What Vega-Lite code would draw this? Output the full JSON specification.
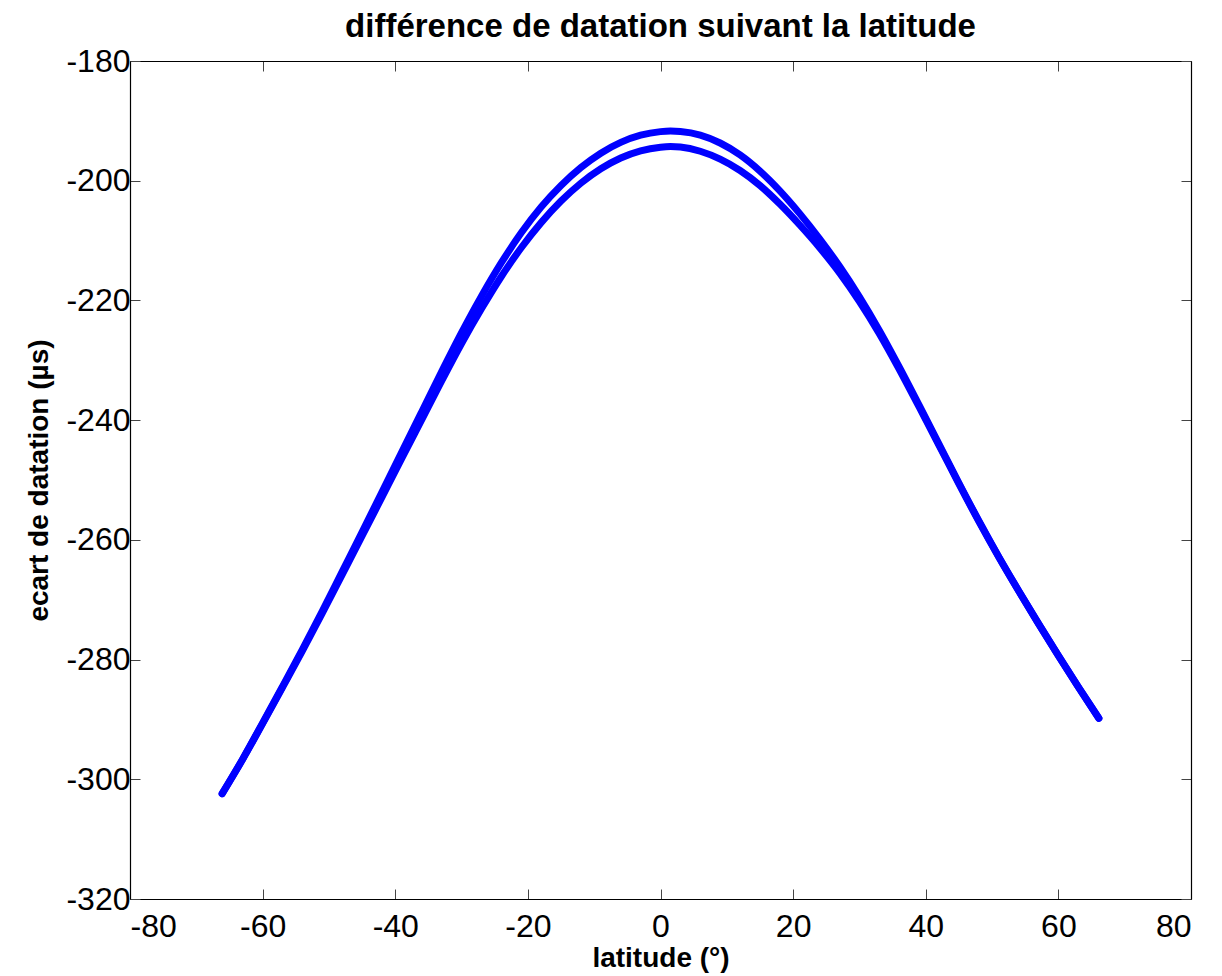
{
  "$schema": "https://vega.github.io/schema/vega-lite/v6.json",
  "autosize": "none",
  "width": 1061,
  "height": 838,
  "padding": {"left": 130, "top": 61, "right": 31, "bottom": 77},
  "background": "white",
  "config": {
    "view": {"stroke": null},
    "font": "Liberation Sans",
    "axis": {"grid": false, "domainColor": "#000", "domainWidth": 1.2, "tickColor": "#444", "tickWidth": 1, "labelColor": "#000", "titleColor": "#000", "labelFont": "Liberation Sans", "titleFont": "Liberation Sans"}
  },
  "title": {"text": "différence de datation suivant la latitude", "fontSize": 33, "fontWeight": "bold", "font": "Liberation Sans", "color": "#000", "anchor": "middle", "offset": 1},
  "data": {"values": [
    {"lat": -66.1, "v": -302.4, "s": "a"}, {"lat": -63, "v": -296.6, "s": "a"}, {"lat": -60, "v": -290.6, "s": "a"},
    {"lat": -57, "v": -284.5, "s": "a"}, {"lat": -54, "v": -278.3, "s": "a"}, {"lat": -51, "v": -271.9, "s": "a"},
    {"lat": -48, "v": -265.3, "s": "a"}, {"lat": -45, "v": -258.7, "s": "a"}, {"lat": -42, "v": -252.0, "s": "a"},
    {"lat": -39, "v": -245.3, "s": "a"}, {"lat": -36, "v": -238.6, "s": "a"}, {"lat": -33, "v": -231.9, "s": "a"},
    {"lat": -30, "v": -225.4, "s": "a"}, {"lat": -27, "v": -219.3, "s": "a"}, {"lat": -24, "v": -213.7, "s": "a"},
    {"lat": -21, "v": -208.7, "s": "a"}, {"lat": -18, "v": -204.4, "s": "a"}, {"lat": -15, "v": -200.8, "s": "a"},
    {"lat": -12, "v": -197.8, "s": "a"}, {"lat": -9, "v": -195.4, "s": "a"}, {"lat": -6, "v": -193.6, "s": "a"},
    {"lat": -3, "v": -192.4, "s": "a"}, {"lat": 0, "v": -191.8, "s": "a"}, {"lat": 1.5, "v": -191.7, "s": "a"},
    {"lat": 3, "v": -191.78, "s": "a"}, {"lat": 6, "v": -192.38, "s": "a"}, {"lat": 9, "v": -193.7, "s": "a"},
    {"lat": 12, "v": -195.7, "s": "a"}, {"lat": 15, "v": -198.4, "s": "a"}, {"lat": 18, "v": -201.7, "s": "a"},
    {"lat": 21, "v": -205.5, "s": "a"}, {"lat": 24, "v": -209.7, "s": "a"}, {"lat": 27, "v": -214.3, "s": "a"},
    {"lat": 30, "v": -219.4, "s": "a"}, {"lat": 33, "v": -225.0, "s": "a"}, {"lat": 36, "v": -231.1, "s": "a"},
    {"lat": 39, "v": -237.5, "s": "a"}, {"lat": 42, "v": -244.0, "s": "a"}, {"lat": 45, "v": -250.5, "s": "a"},
    {"lat": 48, "v": -256.8, "s": "a"}, {"lat": 51, "v": -262.8, "s": "a"}, {"lat": 54, "v": -268.5, "s": "a"},
    {"lat": 57, "v": -274.0, "s": "a"}, {"lat": 60, "v": -279.35, "s": "a"}, {"lat": 63, "v": -284.55, "s": "a"},
    {"lat": 66.1, "v": -289.8, "s": "a"},
    {"lat": -66.1, "v": -302.4, "s": "b"}, {"lat": -63, "v": -296.65, "s": "b"}, {"lat": -60, "v": -290.7, "s": "b"},
    {"lat": -57, "v": -284.65, "s": "b"}, {"lat": -54, "v": -278.55, "s": "b"}, {"lat": -51, "v": -272.25, "s": "b"},
    {"lat": -48, "v": -265.8, "s": "b"}, {"lat": -45, "v": -259.35, "s": "b"}, {"lat": -42, "v": -252.85, "s": "b"},
    {"lat": -39, "v": -246.35, "s": "b"}, {"lat": -36, "v": -239.9, "s": "b"}, {"lat": -33, "v": -233.45, "s": "b"},
    {"lat": -30, "v": -227.2, "s": "b"}, {"lat": -27, "v": -221.4, "s": "b"}, {"lat": -24, "v": -216.0, "s": "b"},
    {"lat": -21, "v": -211.2, "s": "b"}, {"lat": -18, "v": -207.0, "s": "b"}, {"lat": -15, "v": -203.4, "s": "b"},
    {"lat": -12, "v": -200.4, "s": "b"}, {"lat": -9, "v": -198.0, "s": "b"}, {"lat": -6, "v": -196.2, "s": "b"},
    {"lat": -3, "v": -195.0, "s": "b"}, {"lat": 0, "v": -194.4, "s": "b"}, {"lat": 1.5, "v": -194.3, "s": "b"},
    {"lat": 3, "v": -194.38, "s": "b"}, {"lat": 6, "v": -195.08, "s": "b"}, {"lat": 9, "v": -196.4, "s": "b"},
    {"lat": 12, "v": -198.3, "s": "b"}, {"lat": 15, "v": -200.8, "s": "b"}, {"lat": 18, "v": -203.9, "s": "b"},
    {"lat": 21, "v": -207.4, "s": "b"}, {"lat": 24, "v": -211.2, "s": "b"}, {"lat": 27, "v": -215.4, "s": "b"},
    {"lat": 30, "v": -220.2, "s": "b"}, {"lat": 33, "v": -225.55, "s": "b"}, {"lat": 36, "v": -231.5, "s": "b"},
    {"lat": 39, "v": -237.8, "s": "b"}, {"lat": 42, "v": -244.2, "s": "b"}, {"lat": 45, "v": -250.65, "s": "b"},
    {"lat": 48, "v": -256.9, "s": "b"}, {"lat": 51, "v": -262.85, "s": "b"}, {"lat": 54, "v": -268.5, "s": "b"},
    {"lat": 57, "v": -274.0, "s": "b"}, {"lat": 60, "v": -279.35, "s": "b"}, {"lat": 63, "v": -284.55, "s": "b"},
    {"lat": 66.1, "v": -289.8, "s": "b"}
  ]},
  "layer": [
    {
      "mark": {"type": "line", "color": "#0000ff", "strokeWidth": 7, "interpolate": "monotone", "strokeCap": "round", "strokeJoin": "round"},
      "encoding": {
        "x": {"field": "lat", "type": "quantitative", "scale": {"domain": [-80, 80], "nice": false, "zero": false},
          "axis": {"orient": "bottom", "values": [-80, -60, -40, -20, 0, 20, 40, 60, 80], "labelExpr": "'' + datum.value", "tickSize": -10, "labelFontSize": 32, "labelPadding": 22, "title": "latitude (°)", "titleFontSize": 28, "titleFontWeight": "bold", "titlePadding": 2}},
        "y": {"field": "v", "type": "quantitative", "scale": {"domain": [-320, -180], "nice": false, "zero": false},
          "axis": {"orient": "left", "values": [-320, -300, -280, -260, -240, -220, -200, -180], "labelExpr": "'' + datum.value", "tickSize": -10, "labelFontSize": 32, "labelPadding": 10, "title": "ecart de datation (µs)", "titleFontSize": 28, "titleFontWeight": "bold", "titlePadding": 12}},
        "detail": {"field": "s"}
      }
    },
    {
      "mark": {"type": "line", "opacity": 0},
      "encoding": {
        "x": {"field": "lat", "type": "quantitative", "scale": {"domain": [-80, 80], "nice": false, "zero": false},
          "axis": {"orient": "top", "values": [-80, -60, -40, -20, 0, 20, 40, 60, 80], "tickSize": -10, "labels": false, "title": null}},
        "y": {"field": "v", "type": "quantitative", "scale": {"domain": [-320, -180], "nice": false, "zero": false},
          "axis": {"orient": "right", "values": [-320, -300, -280, -260, -240, -220, -200, -180], "tickSize": -10, "labels": false, "title": null}},
        "detail": {"field": "s"}
      }
    }
  ],
  "resolve": {"axis": {"x": "independent", "y": "independent"}}
}
